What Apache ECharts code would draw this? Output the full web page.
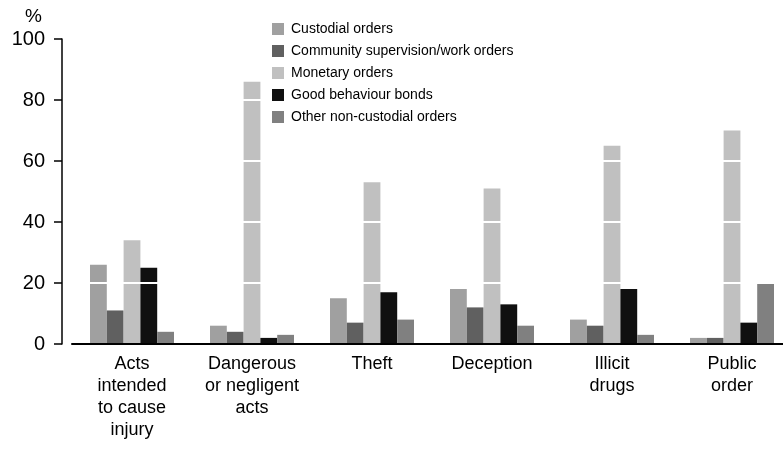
<!DOCTYPE html>
<html lang="en">
<head>
    <meta charset="UTF-8">
    <title>Sentences by offence type</title>
    <script src="https://cdn.jsdelivr.net/npm/echarts@6/dist/echarts.min.js"></script>
    <style>
        html, body { margin: 0; background: #fff; overflow: hidden; }
        /* a little wider than the window: the last group is cut at the right edge, as in the original */
        #main { width: 792px; height: 451px; }
    </style>
</head>
<body>
    <div id="main"></div>
    <script>
        // data
        var categories = ['Acts\nintended\nto cause\ninjury', 'Dangerous\nor negligent\nacts', 'Theft', 'Deception', 'Illicit\ndrugs', 'Public\norder']
        var custodial = [26, 6, 15, 18, 8, 2]
        var community = [11, 4, 7, 12, 6, 2]
        var monetary = [34, 86, 53, 51, 65, 70]
        var goodBehaviour = [25, 2, 17, 13, 18, 7]
        var otherNonCustodial = [4, 3, 8, 6, 3, 20]
        var yTicks = [0, 20, 40, 60, 80, 100]

        var font = 'Liberation Sans, Arial, sans-serif'

        function bar(name, data, color) {
            return {
                name: name,
                type: 'bar',
                data: data,
                barGap: '0%',
                barCategoryGap: '30%',
                itemStyle: { color: color },
                z: 2
            }
        }

        var mCharts = echarts.init(document.getElementById('main'))
        var option = {
            animation: false,
            textStyle: { fontFamily: font, color: '#000' },
            legend: {
                orient: 'vertical',
                left: 272,
                top: 22,
                z: 20,
                padding: 0,
                itemWidth: 12,
                itemHeight: 12,
                itemGap: 8,
                icon: 'rect',
                textStyle: { fontSize: 14, color: '#000', fontFamily: font, padding: [0, 0, 0, 2] }
            },
            grid: { left: 72, right: 0, top: 39, bottom: 107, outerBoundsMode: 'none' },
            xAxis: {
                type: 'category',
                data: categories,
                z: 6,
                axisLine: { lineStyle: { color: '#000', width: 2 } },
                axisTick: { alignWithLabel: true, length: 6, lineStyle: { color: '#000' } },
                axisLabel: { interval: 0, fontSize: 18, lineHeight: 22, color: '#000', margin: 9, fontFamily: font }
            },
            yAxis: {
                type: 'value',
                min: yTicks[0],
                max: yTicks[yTicks.length - 1],
                interval: 20,
                offset: 10,
                z: 5,
                name: '%',
                nameLocation: 'end',
                nameGap: 13,
                nameTextStyle: { fontSize: 19, color: '#000', align: 'right', padding: [0, 20, 0, 0], fontFamily: font },
                axisLine: { show: true, lineStyle: { color: '#000', width: 1.5 } },
                axisTick: { show: true, length: 8, lineStyle: { color: '#000', width: 1.5 } },
                axisLabel: { fontSize: 20, color: '#000', margin: 17, fontFamily: font },
                splitLine: { show: true, lineStyle: { color: '#fff', width: 2 } }
            },
            series: [
                bar('Custodial orders', custodial, '#a0a0a0'),
                bar('Community supervision/work orders', community, '#606060'),
                bar('Monetary orders', monetary, '#c0c0c0'),
                bar('Good behaviour bonds', goodBehaviour, '#101010'),
                bar('Other non-custodial orders', otherNonCustodial, '#808080')
            ]
        }
        mCharts.setOption(option)
    </script>
</body>
</html>
